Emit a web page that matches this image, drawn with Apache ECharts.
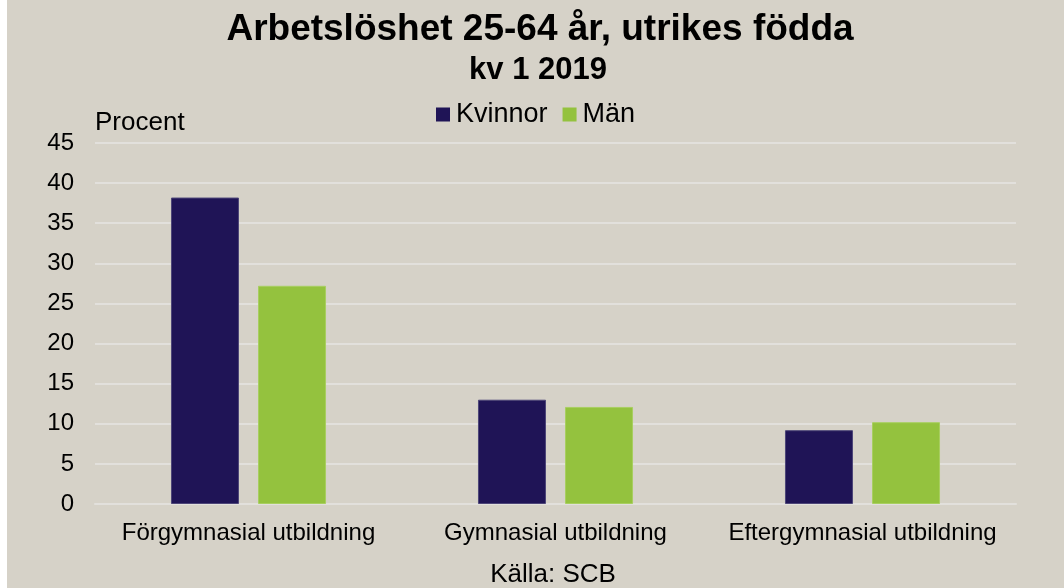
<!DOCTYPE html>
<html>
<head>
<meta charset="utf-8">
<style>html,body{margin:0;padding:0;background:#fff;}#c{width:1064px;height:588px;}</style>
<script src="https://cdn.jsdelivr.net/npm/echarts@6/dist/echarts.min.js"></script>
</head>
<body>
<div id="c"></div>
<script>
const categories = ['Förgymnasial utbildning', 'Gymnasial utbildning', 'Eftergymnasial utbildning'];
const kvinnor = [38.2, 13.0, 9.2];
const man = [27.2, 12.1, 10.2];
const yTicks = [0, 5, 10, 15, 20, 25, 30, 35, 40, 45];

const chart = echarts.init(document.getElementById('c'));
const font = '"Liberation Sans", Arial, sans-serif';
chart.setOption({
  backgroundColor: '#d6d2c8',
  animation: false,
  textStyle: { fontFamily: font },
  graphic: [
    { type: 'rect', left: 0, top: 0, shape: { width: 7, height: 588 }, style: { fill: '#ffffff' } },
    { type: 'text', x: 540, y: 30, style: { text: 'Arbetslöshet 25-64 år, utrikes födda', font: 'bold 37px ' + font, fill: '#000', textAlign: 'center', textVerticalAlign: 'middle' } },
    { type: 'text', x: 538, y: 70, style: { text: 'kv 1 2019', font: 'bold 31px ' + font, fill: '#000', textAlign: 'center', textVerticalAlign: 'middle' } },
    { type: 'text', x: 95, y: 123, style: { text: 'Procent', font: '26px ' + font, fill: '#000', textAlign: 'left', textVerticalAlign: 'middle' } },
    { type: 'text', x: 553, y: 575, style: { text: 'Källa: SCB', font: '26px ' + font, fill: '#000', textAlign: 'center', textVerticalAlign: 'middle' } }
  ],
  legend: {
    left: 431, top: 96,
    itemWidth: 14, itemHeight: 14, itemGap: 15,
    icon: 'rect',
    itemStyle: { borderWidth: 0 },
    textStyle: { fontSize: 27, color: '#000', fontFamily: font, padding: [0, 0, 0, 1] },
    data: ['Kvinnor', 'Män']
  },
  grid: { left: 95, right: 48, top: 143, bottom: 84, containLabel: false },
  xAxis: {
    type: 'category',
    data: categories,
    axisLine: { show: true, lineStyle: { color: '#e2e0dc', width: 2 } },
    axisTick: { show: false },
    axisLabel: { fontSize: 24, color: '#000', margin: 17, fontFamily: font, interval: 0 }
  },
  yAxis: {
    type: 'value',
    min: yTicks[0], max: yTicks[yTicks.length - 1], interval: 5,
    axisLine: { show: false },
    axisTick: { show: false },
    axisLabel: { fontSize: 24, color: '#000', margin: 21, fontFamily: font },
    splitLine: { lineStyle: { color: '#e2e0dc', width: 2 } }
  },
  series: [
    { name: 'Kvinnor', type: 'bar', data: kvinnor, barWidth: 68, barGap: '28%',
      itemStyle: { color: '#1f1456', borderColor: '#4d4578', borderWidth: 1 } },
    { name: 'Män', type: 'bar', data: man, barWidth: 68,
      itemStyle: { color: '#94c23e', borderColor: '#a8cf60', borderWidth: 1 } }
  ]
});
</script>
</body>
</html>
